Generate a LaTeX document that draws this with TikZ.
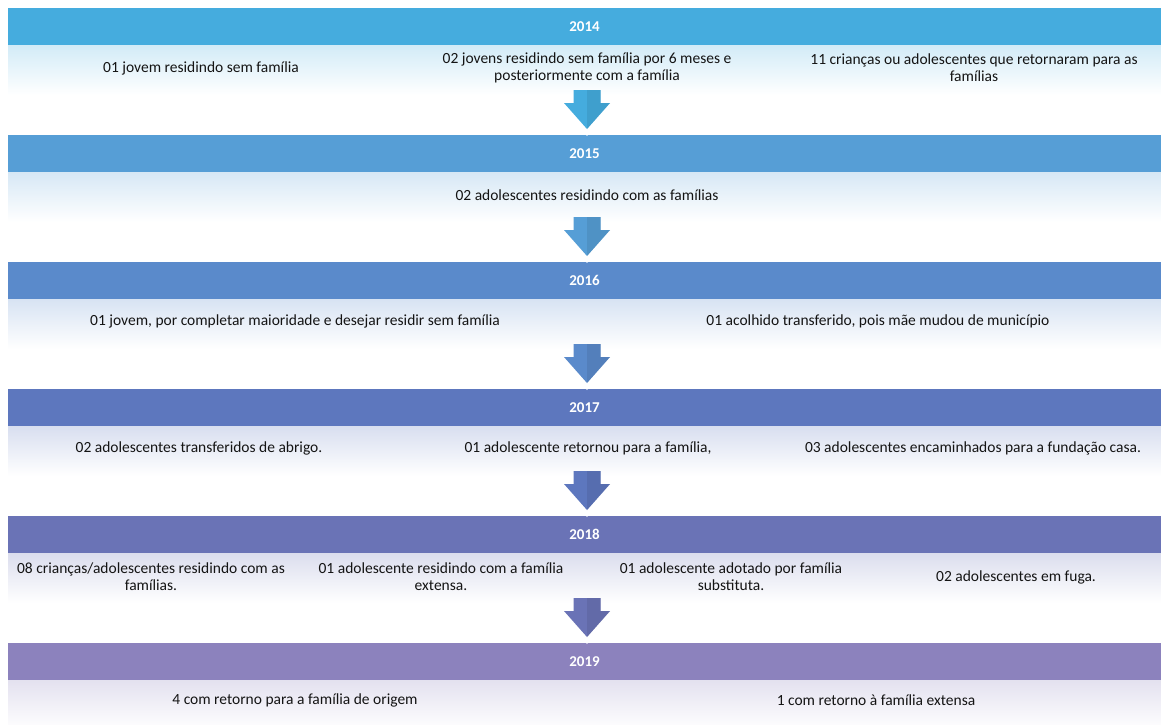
\documentclass[tikz,border=0pt]{standalone}
\usepackage{fontspec}
\setmainfont{Carlito}
\definecolor{cA}{HTML}{45ACDE}
\definecolor{cB}{HTML}{569ED6}
\definecolor{cC}{HTML}{5A8ACB}
\definecolor{cD}{HTML}{5D77BE}
\definecolor{cE}{HTML}{6A73B6}
\definecolor{cF}{HTML}{8C82BD}
\definecolor{ink}{HTML}{141414}
\tikzset{
  hdr/.style={font=\fontsize{15}{17}\selectfont\bfseries, text=white, inner sep=0pt},
  txt/.style={font=\fontsize{15.5}{17}\selectfont, text=ink, align=center, inner sep=0pt},
}
\newcommand{\bandbg}[2]{%
  \fill[#2] (8,#1) rectangle (1161,#1+37);
  \shade[top color=#2!24, bottom color=white] (8,#1+37) rectangle (1161,#1+87);
}
\newcommand{\bandarrow}[2]{%
  \fill[white] (573.5,#1+86) -- (600.5,#1+86) -- (600.5,#1+99) -- (612,#1+99) -- (587,#1+128) -- (562,#1+99) -- (573.5,#1+99) -- cycle;
  \fill[#2] (573.5,#1+82) -- (600.5,#1+82) -- (600.5,#1+95) -- (610,#1+95) -- (587,#1+121) -- (564,#1+95) -- (573.5,#1+95) -- cycle;
  \fill[#2!75!black, opacity=0.3] (587,#1+82) -- (600.5,#1+82) -- (600.5,#1+95) -- (610,#1+95) -- (587,#1+121) -- cycle;
}
\begin{document}
\begin{tikzpicture}[x=1pt,y=-1pt]
\useasboundingbox (0,0) rectangle (1161,724);
\fill[white] (0,0) rectangle (1161,724);
% backgrounds
\bandbg{8}{cA}
\bandbg{135}{cB}
\bandbg{262}{cC}
\bandbg{389}{cD}
\bandbg{516}{cE}
\bandbg{643}{cF}
% arrows
\bandarrow{8}{cA}
\bandarrow{135}{cB}
\bandarrow{262}{cC}
\bandarrow{389}{cD}
\bandarrow{516}{cE}
% 2014
\node[hdr] (y14) at (584.5,26.5) {2014};
\node[txt] (a14) at (201,68) {01 jovem residindo sem família};
\node[txt] (b14) at (587,68) {02 jovens residindo sem família por 6 meses e\\posteriormente com a família};
\node[txt] (c14) at (974,68) {11 crianças ou adolescentes que retornaram para as\\famílias};
% 2015
\node[hdr] (y15) at (584.5,153.5) {2015};
\node[txt] (a15) at (587,195) {02 adolescentes residindo com as famílias};
% 2016
\node[hdr] (y16) at (584.5,280.5) {2016};
\node[txt] (a16) at (295,321) {01 jovem, por completar maioridade e desejar residir sem família};
\node[txt] (b16) at (878,321) {01 acolhido transferido, pois mãe mudou de município};
% 2017
\node[hdr] (y17) at (584.5,407.5) {2017};
\node[txt] (a17) at (199,448) {02 adolescentes transferidos de abrigo.};
\node[txt] (b17) at (588,448) {01 adolescente retornou para a família,};
\node[txt] (c17) at (973,448) {03 adolescentes encaminhados para a fundação casa.};
% 2018
\node[hdr] (y18) at (584.5,534.5) {2018};
\node[txt] (a18) at (151,577) {08 crianças/adolescentes residindo com as\\famílias.};
\node[txt] (b18) at (441,577) {01 adolescente residindo com a família\\extensa.};
\node[txt] (c18) at (731,577) {01 adolescente adotado por família\\substituta.};
\node[txt] (d18) at (1016,577) {02 adolescentes em fuga.};
% 2019
\node[hdr] (y19) at (584.5,661.5) {2019};
\node[txt] (a19) at (295,700) {4 com retorno para a família de origem};
\node[txt] (b19) at (876,700) {1 com retorno à família extensa};
\end{tikzpicture}
\end{document}
